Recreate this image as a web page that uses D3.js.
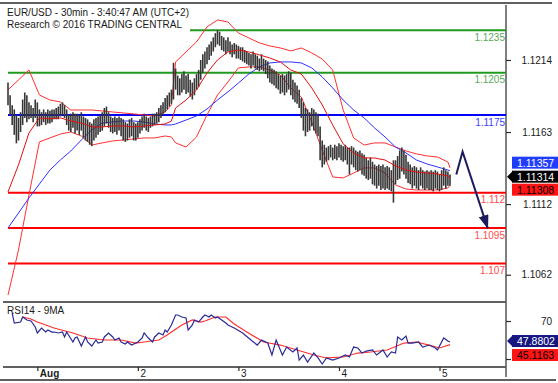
<!DOCTYPE html>
<html><head><meta charset="utf-8">
<script src="https://cdn.jsdelivr.net/npm/d3@7"></script>
<style>
body{margin:0;background:#fff;}
svg{display:block;font-family:"Liberation Sans",Arial,sans-serif;}
</style>
</head><body>
<svg id="c" width="558" height="383"></svg>
<script>
// ---------------- DATA ----------------
const titleLine1 = "EUR/USD - 30min - 3:40:47 AM (UTC+2)";
const titleLine2 = "Research \u00A9 2016 TRADING CENTRAL";
const rsiTitle = "RSI14 - 9MA";

// 30-min bars, index 0 = first bar shown
const priceHigh = [1.1198,1.1189,1.1182,1.1179,1.1175,1.1173,1.1177,1.1186,1.1191,1.1189,
1.1184,1.1182,1.1180,1.1186,1.1184,1.1179,1.1177,1.1179,1.1177,1.1179,
1.1178,1.1179,1.1179,1.1180,1.1181,1.1183,1.1184,1.1182,1.1179,1.1175,
1.1176,1.1177,1.1176,1.1176,1.1175,1.1177,1.1174,1.1173,1.1172,1.1170,
1.1169,1.1172,1.1173,1.1174,1.1175,1.1177,1.1180,1.1181,1.1177,1.1174,
1.1173,1.1174,1.1173,1.1174,1.1173,1.1172,1.1170,1.1169,1.1172,1.1173,
1.1170,1.1169,1.1170,1.1172,1.1174,1.1176,1.1174,1.1173,1.1174,1.1176,
1.1176,1.1177,1.1180,1.1182,1.1184,1.1187,1.1189,1.1191,1.1193,1.1212,
1.1208,1.1203,1.1201,1.1204,1.1206,1.1203,1.1204,1.1200,1.1198,1.1201,
1.1204,1.1207,1.1214,1.1218,1.1220,1.1223,1.1225,1.1227,1.1230,1.1233,
1.1235,1.1234,1.1231,1.1230,1.1228,1.1230,1.1227,1.1225,1.1226,1.1225,
1.1224,1.1223,1.1223,1.1221,1.1220,1.1219,1.1218,1.1220,1.1218,1.1217,
1.1215,1.1218,1.1215,1.1214,1.1213,1.1210,1.1208,1.1207,1.1206,1.1204,
1.1203,1.1204,1.1203,1.1204,1.1206,1.1205,1.1200,1.1198,1.1196,1.1193,
1.1187,1.1184,1.1180,1.1179,1.1177,1.1180,1.1179,1.1177,1.1176,1.1167,
1.1157,1.1154,1.1152,1.1153,1.1154,1.1152,1.1154,1.1153,1.1155,1.1154,
1.1153,1.1154,1.1152,1.1152,1.1153,1.1152,1.1150,1.1149,1.1150,1.1148,
1.1147,1.1145,1.1143,1.1145,1.1142,1.1140,1.1139,1.1140,1.1139,1.1140,
1.1138,1.1139,1.1138,1.1136,1.1143,1.1143,1.1146,1.1150,1.1152,1.1150,
1.1147,1.1142,1.1140,1.1138,1.1139,1.1138,1.1136,1.1138,1.1136,1.1135,
1.1136,1.1135,1.1136,1.1135,1.1136,1.1135,1.1133,1.1136,1.1138,1.1136,
1.1135,1.1133];
const priceLow = [1.1182,1.1175,1.1168,1.1161,1.1155,1.1157,1.1163,1.1168,1.1173,1.1170,
1.1172,1.1173,1.1170,1.1173,1.1167,1.1167,1.1168,1.1170,1.1168,1.1169,
1.1169,1.1170,1.1172,1.1172,1.1172,1.1174,1.1175,1.1173,1.1168,1.1164,
1.1163,1.1166,1.1162,1.1164,1.1161,1.1164,1.1159,1.1157,1.1156,1.1154,
1.1153,1.1157,1.1159,1.1161,1.1163,1.1164,1.1167,1.1169,1.1166,1.1163,
1.1162,1.1163,1.1161,1.1164,1.1160,1.1157,1.1156,1.1157,1.1159,1.1160,
1.1157,1.1157,1.1159,1.1162,1.1164,1.1166,1.1164,1.1163,1.1166,1.1167,
1.1168,1.1169,1.1170,1.1173,1.1175,1.1177,1.1179,1.1181,1.1183,1.1186,
1.1193,1.1189,1.1189,1.1191,1.1193,1.1190,1.1191,1.1188,1.1186,1.1189,
1.1193,1.1195,1.1200,1.1205,1.1208,1.1211,1.1214,1.1217,1.1220,1.1223,
1.1225,1.1224,1.1221,1.1220,1.1218,1.1220,1.1218,1.1216,1.1218,1.1215,
1.1215,1.1214,1.1213,1.1212,1.1211,1.1210,1.1208,1.1210,1.1208,1.1207,
1.1206,1.1207,1.1206,1.1204,1.1201,1.1198,1.1197,1.1196,1.1194,1.1193,
1.1190,1.1191,1.1189,1.1191,1.1193,1.1189,1.1186,1.1184,1.1183,1.1180,
1.1173,1.1164,1.1160,1.1163,1.1164,1.1167,1.1164,1.1162,1.1160,1.1143,
1.1138,1.1140,1.1142,1.1143,1.1145,1.1143,1.1144,1.1143,1.1145,1.1143,
1.1142,1.1143,1.1140,1.1133,1.1140,1.1138,1.1136,1.1135,1.1136,1.1133,
1.1132,1.1130,1.1129,1.1130,1.1126,1.1125,1.1123,1.1125,1.1122,1.1123,
1.1122,1.1123,1.1122,1.1121,1.1113,1.1126,1.1129,1.1130,1.1135,1.1133,
1.1130,1.1127,1.1126,1.1123,1.1125,1.1123,1.1122,1.1125,1.1123,1.1122,
1.1123,1.1122,1.1122,1.1121,1.1123,1.1122,1.1121,1.1122,1.1125,1.1123,
1.1125,1.1125];
const lastClose = 1.11314;

// indicator samples (bar indices)
const bandIdx = [0,5,10,15,20,25,30,35,40,45,50,55,60,65,70,75,78,80,85,90,95,100,105,110,115,120,125,130,135,140,145,150,155,160,165,170,175,180,185,190,195,200,205,210,211];
const upperBand = [1.11928,1.11999,1.12069,1.11892,1.11857,1.11843,1.11786,1.11786,1.11786,1.11779,
1.11772,1.11765,1.11758,1.11751,1.11744,1.11772,1.11822,1.12126,1.12197,1.12268,
1.12374,1.12423,1.12409,1.12331,1.12296,1.12261,1.12239,1.12225,1.12204,1.12225,
1.12190,1.12147,1.12069,1.11786,1.11588,1.11538,1.11553,1.11553,1.11524,1.11496,
1.11475,1.11461,1.11453,1.11418,1.11376];
const midBand = [1.11206,1.11397,1.11623,1.11730,1.11723,1.11730,1.11708,1.11694,1.11666,1.11666,
1.11673,1.11673,1.11666,1.11673,1.11680,1.11687,1.11708,1.11800,1.11857,1.11928,
1.12048,1.12140,1.12197,1.12211,1.12197,1.12176,1.12154,1.12126,1.12069,1.12041,
1.11942,1.11822,1.11680,1.11546,1.11482,1.11446,1.11446,1.11432,1.11390,1.11361,
1.11347,1.11340,1.11333,1.11319,1.11308];
const lowerBand = [1.10476,1.10795,1.11184,1.11560,1.11588,1.11616,1.11630,1.11602,1.11538,1.11553,
1.11567,1.11574,1.11581,1.11588,1.11588,1.11602,1.11595,1.11553,1.11524,1.11595,
1.11751,1.11892,1.11984,1.12084,1.12091,1.12091,1.12069,1.12034,1.11942,1.11878,
1.11701,1.11503,1.11312,1.11305,1.11340,1.11376,1.11376,1.11340,1.11255,1.11227,
1.11220,1.11220,1.11220,1.11234,1.11255];
const slowMA = [1.10951,1.11057,1.11163,1.11262,1.11361,1.11432,1.11496,1.11574,1.11645,1.11694,
1.11701,1.11708,1.11708,1.11701,1.11687,1.11680,1.11680,1.11687,1.11715,1.11744,
1.11793,1.11857,1.11914,1.11977,1.12041,1.12091,1.12119,1.12126,1.12126,1.12119,
1.12084,1.12020,1.11942,1.11857,1.11786,1.11730,1.11659,1.11595,1.11524,1.11482,
1.11432,1.11404,1.11383,1.11361,1.11357];

// key levels
const levelValues = [1.1235,1.1205,1.1175,1.112,1.1095,1.107];
const levelLabels = ["1.1235","1.1205","1.1175","1.112","1.1095","1.107"];
const levelTypes = ["res","res","pivot","sup","sup","sup"];

// scenario arrow (bar index, price)
const arrowIdx = [214,217,229];
const arrowVal = [1.1133,1.1149,1.1095];

// RSI
const rsiIdx = [2,3,6,7,9,11,13,14,16,18,19,21,22,24,26,27,28,31,32,33,
35,37,38,40,42,43,45,46,48,50,51,53,54,56,57,59,61,62,64,65,
67,69,70,72,74,75,76,78,80,81,83,85,86,88,89,91,93,94,96,97,
99,100,102,104,105,108,112,116,119,121,124,126,128,131,133,136,138,139,141,143,
146,148,150,152,155,158,161,163,165,167,169,171,174,176,179,181,183,185,186,188,
190,191,193,196,198,201,204,205,208,210,211];
const rsiVal = [78.4,67.9,68.9,74.2,71.1,70.0,63.7,57.4,62.6,58.4,60.5,58.4,58.4,57.4,58.4,53.2,58.4,47.9,52.1,53.2,
43.7,53.2,47.9,43.7,50.0,46.8,47.9,53.2,57.4,53.2,50.0,52.1,47.9,45.8,47.9,44.7,46.8,47.9,52.1,57.4,
52.1,47.9,53.2,57.4,55.3,60.5,58.4,65.8,76.3,76.3,74.2,73.2,60.5,65.8,71.1,68.9,74.2,76.3,74.2,76.3,
73.2,74.2,71.1,67.9,65.8,62.6,57.4,50.0,44.7,50.0,46.8,34.2,50.0,34.2,42.6,37.4,41.6,28.9,34.2,26.8,
36.3,31.1,24.7,31.1,28.9,31.1,34.2,32.1,42.6,41.6,36.3,38.4,39.5,34.2,39.5,32.1,37.4,36.3,53.2,50.0,
54.2,46.8,46.8,47.9,42.6,44.7,41.6,39.5,52.1,48.9,47.8802];
const rsiMaIdx = [7,11,14,22,31,38,46,54,61,65,72,76,78,83,88,92,94,99,104,108,114,122,130,138,146,152,160,167,173,181,189,195,201,206,211];
const rsiMaVal = [74.2,72.1,68.9,62.6,57.4,52.1,50.0,50.0,46.8,47.9,50.0,55.3,58.4,65.8,71.1,68.9,70.0,74.2,74.2,66.8,
58.4,47.9,44.7,39.5,34.2,31.1,32.1,36.3,37.4,39.5,46.8,47.9,44.7,41.6,45.1163];

// axes
const priceTicks = [1.1214,1.1163,1.1112,1.1062];
const rsiTicks = [70,30];
const rsiTickLabels = ["70",""]; // the 30 label sits hidden under the RSI-MA tag
const dayIdx = [14,62,110,158,206];
const dayLabels = ["Aug","2","3","4","5"];

// ---------------- DRAW ----------------
const svg = d3.select("#c");
const x = d3.scaleLinear().domain([0,211]).range([8,450]);
const y = d3.scaleLinear().domain([1.10427,1.12522]).range([302,6]);
const yr = d3.scaleLinear().domain([21.6,90]).range([367,302]);
const AX = 506;
const dark = "#2b2b2b";

const defs = svg.append("defs");
defs.append("clipPath").attr("id","mainClip").append("rect")
  .attr("x",7).attr("y",6).attr("width",AX-7).attr("height",296);
defs.append("clipPath").attr("id","rsiClip").append("rect")
  .attr("x",7).attr("y",303).attr("width",AX-7).attr("height",63);
defs.append("marker").attr("id","ah").attr("markerUnits","userSpaceOnUse")
  .attr("viewBox","0 0 14 10").attr("markerWidth",14).attr("markerHeight",10)
  .attr("refX",13).attr("refY",5).attr("orient","auto")
  .append("path").attr("d","M0,0 L14,5 L0,10 Z").attr("fill","#1b1b5e");

// frame lines
svg.append("line").attr("x1",0).attr("x2",552).attr("y1",3).attr("y2",3).attr("stroke",dark).attr("stroke-width",1.5);
svg.append("line").attr("x1",0).attr("x2",556).attr("y1",380).attr("y2",380).attr("stroke",dark).attr("stroke-width",1.5);
svg.append("line").attr("x1",3).attr("x2",AX).attr("y1",302).attr("y2",302).attr("stroke",dark).attr("stroke-width",1.5);
svg.append("line").attr("x1",3).attr("x2",AX).attr("y1",367).attr("y2",367).attr("stroke",dark).attr("stroke-width",1.5);
svg.append("line").attr("x1",AX).attr("x2",AX).attr("y1",5).attr("y2",377).attr("stroke","#555").attr("stroke-width",1.5);

const main = svg.append("g").attr("clip-path","url(#mainClip)");

// key level lines
const lineCol = {res:"#1f9a1f", pivot:"#0000ff", sup:"#ff0000"};
const textCol = {res:"#5aaa5a", pivot:"#4040ff", sup:"#ff4d4d"};
main.selectAll("line.level").data(levelValues).join("line").attr("class","level")
  .attr("x1",x(0)).attr("x2",AX).attr("y1",d=>y(d)).attr("y2",d=>y(d))
  .attr("stroke",(d,i)=>lineCol[levelTypes[i]]).attr("stroke-width",2);

// bands & MA
const bandLine = arr => d3.line().x((d,i)=>x(bandIdx[i])).y(d=>y(d))(arr);
main.append("path").attr("d",bandLine(upperBand)).attr("fill","none").attr("stroke","#ff3030").attr("stroke-width",1);
main.append("path").attr("d",bandLine(lowerBand)).attr("fill","none").attr("stroke","#ff3030").attr("stroke-width",1);
main.append("path").attr("d",bandLine(slowMA)).attr("fill","none").attr("stroke","#3030ff").attr("stroke-width",1);

// bars
main.selectAll("line.bar").data(priceHigh).join("line").attr("class","bar")
  .attr("x1",(d,i)=>x(i)).attr("x2",(d,i)=>x(i))
  .attr("y1",d=>y(d)).attr("y2",(d,i)=>y(priceLow[i]))
  .attr("stroke","#363636").attr("stroke-width",1.6);

main.append("path").attr("d",bandLine(midBand)).attr("fill","none").attr("stroke","#e01010").attr("stroke-width",1);

// arrow
main.append("path")
  .attr("d",d3.line().x((d,i)=>x(arrowIdx[i])).y(d=>y(d))(arrowVal))
  .attr("fill","none").attr("stroke","#1b1b5e").attr("stroke-width",2)
  .attr("marker-end","url(#ah)");

// level labels
svg.selectAll("text.level").data(levelValues).join("text").attr("class","level")
  .attr("x",AX-1).attr("y",d=>y(d)+10.5).attr("text-anchor","end")
  .attr("font-size",10).attr("fill",(d,i)=>textCol[levelTypes[i]])
  .text((d,i)=>levelLabels[i]);

// title
const tg = svg.append("g");
const tBg = tg.append("rect").attr("fill","#fff");
tg.append("text").attr("x",7).attr("y",16).attr("font-size",10).attr("fill","#1a1a1a").text(titleLine1);
tg.append("text").attr("x",7).attr("y",28).attr("font-size",10).attr("fill","#1a1a1a").text(titleLine2);
const tb = tg.node().getBBox();
tBg.attr("x",0).attr("y",5).attr("width",tb.x+tb.width+1).attr("height",tb.y+tb.height-3);

// RSI panel
const rsiG = svg.append("g").attr("clip-path","url(#rsiClip)");
rsiG.append("path").attr("d",d3.line().x((d,i)=>x(rsiMaIdx[i])).y(d=>yr(d))(rsiMaVal))
  .attr("fill","none").attr("stroke","#ff3030").attr("stroke-width",1.2);
rsiG.append("path").attr("d",d3.line().x((d,i)=>x(rsiIdx[i])).y(d=>yr(d))(rsiVal))
  .attr("fill","none").attr("stroke","#2a2a96").attr("stroke-width",1.2);
svg.append("text").attr("x",7).attr("y",314).attr("font-size",10).attr("fill","#1a1a1a").text(rsiTitle);

// right axes
const pAx = svg.append("g").attr("transform",`translate(${AX},0)`)
  .call(d3.axisRight(y).tickValues(priceTicks).tickSize(5).tickFormat(d3.format(".4f")));
const rAx = svg.append("g").attr("transform",`translate(${AX},0)`)
  .call(d3.axisRight(yr).tickValues(rsiTicks).tickSize(5).tickFormat((d,i)=>rsiTickLabels[i]));
[pAx,rAx].forEach(a=>{
  a.select(".domain").remove();
  a.selectAll(".tick line").attr("stroke",dark).attr("stroke-width",1.2);
  a.selectAll(".tick text").attr("x",46).attr("text-anchor","end").attr("fill","#1a1a1a")
    .attr("font-size",10).attr("font-family","Liberation Sans, Arial, sans-serif");
});

// x axis
const xAx = svg.append("g").attr("transform","translate(0,367)")
  .call(d3.axisBottom(x).tickValues(dayIdx).tickSize(4).tickFormat((d,i)=>dayLabels[i]));
xAx.select(".domain").remove();
xAx.selectAll(".tick line").attr("stroke",dark).attr("stroke-width",1.2);
xAx.selectAll(".tick text").attr("x",2).attr("y",10).attr("dy",0).attr("text-anchor","start")
  .attr("fill","#1a1a1a").attr("font-size",10).attr("font-family","Liberation Sans, Arial, sans-serif")
  .attr("font-weight",(d,i)=>i===0?"bold":"normal");

// value tags
function tag(cy, txt, fill, tcol, pointer){
  const g = svg.append("g");
  if(pointer){
    g.append("path").attr("d",`M${AX+1},${cy} L${AX+7},${cy-6} L${AX+7},${cy+6} Z`).attr("fill",fill);
  }
  g.append("rect").attr("x",AX+6).attr("y",cy-6).attr("width",50).attr("height",12).attr("fill",fill);
  g.append("text").attr("x",AX+11).attr("y",cy+4).attr("font-size",10.5).attr("fill",tcol).text(txt);
}
const cyClose = y(lastClose);
tag(cyClose-14, d3.format(".5f")(slowMA[slowMA.length-1]), "#1f3dff", "#fff", false);
tag(cyClose, d3.format(".5f")(lastClose), "#000", "#fff", true);
tag(cyClose+13, d3.format(".5f")(midBand[midBand.length-1]), "#ff1414", "#000", false);
const cyR = yr(rsiVal[rsiVal.length-1]);
tag(cyR-1, d3.format(".4f")(rsiVal[rsiVal.length-1]), "#16167e", "#fff", true);
tag(cyR+13, d3.format(".4f")(rsiMaVal[rsiMaVal.length-1]), "#ff1414", "#000", false);
</script>
</body></html>
